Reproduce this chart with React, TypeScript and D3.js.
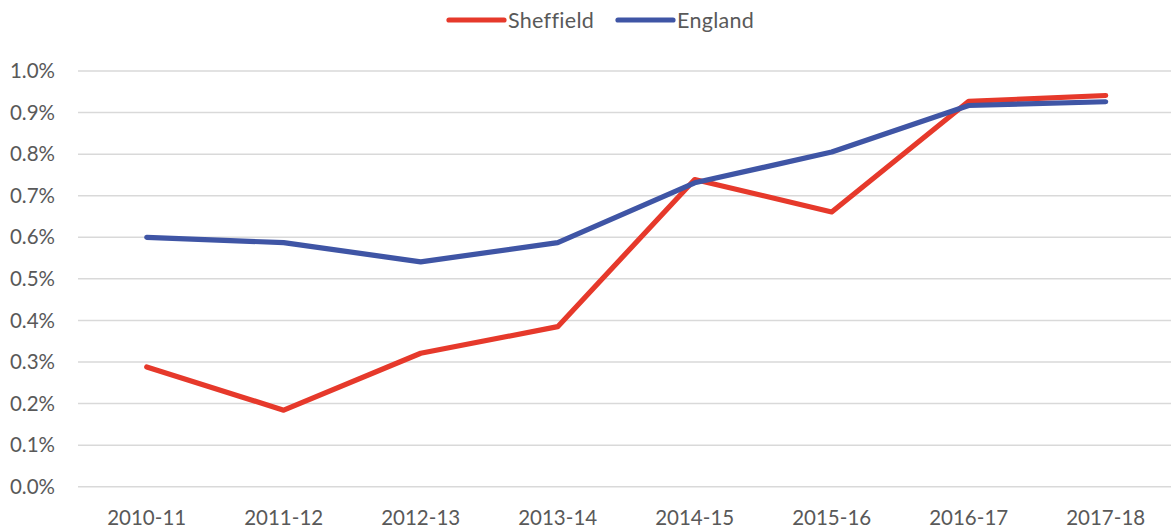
import React from "react";
import * as d3 from "d3";

const categories = ["2010-11", "2011-12", "2012-13", "2013-14", "2014-15", "2015-16", "2016-17", "2017-18"];
const sheffield = [0.288, 0.184, 0.321, 0.385, 0.739, 0.661, 0.927, 0.941];
const england = [0.600, 0.587, 0.541, 0.587, 0.731, 0.805, 0.917, 0.926];
const yTicks = [0, 0.1, 0.2, 0.3, 0.4, 0.5, 0.6, 0.7, 0.8, 0.9, 1.0];

const W = 1171;
const H = 530;
const RED = "#E6392B";
const BLUE = "#3F55A5";
const FONT = "Lato, 'Open Sans', sans-serif";

export default function App() {
  const x = d3.scaleBand<string>().domain(categories).range([78.2, 78.2 + 137 * 8]);
  const y = d3.scaleLinear().domain([0, 1.0]).range([486.7, 71]);
  const cx = (c: string) => (x(c) as number) + x.bandwidth() / 2;
  const line = d3
    .line<number>()
    .x((_, i) => cx(categories[i]))
    .y((d) => y(d));

  const series = [
    { name: "Sheffield", values: sheffield, color: RED },
    { name: "England", values: england, color: BLUE },
  ];
  const legend = [
    { name: "Sheffield", color: RED, x1: 449, x2: 504, tx: 508 },
    { name: "England", color: BLUE, x1: 618, x2: 673, tx: 677 },
  ];

  return (
    <svg
      width={W}
      height={H}
      style={{ position: "absolute", left: 0, top: 0, background: "#fff" }}
      fontFamily={FONT}
    >
      <rect width={W} height={H} fill="#fff" />
      {yTicks.map((t) => (
        <g key={t}>
          <line x1={78} x2={W} y1={y(t)} y2={y(t)} stroke="#D9D9D9" strokeWidth={1.5} />
          <text x={55} y={y(t)} dy="0.35em" textAnchor="end" fontSize={20.5} fill="#595959">
            {d3.format(".1f")(t) + "%"}
          </text>
        </g>
      ))}
      {categories.map((c) => (
        <text key={c} x={cx(c)} y={525} textAnchor="middle" fontSize={20.5} fill="#595959">
          {c}
        </text>
      ))}
      {series.map((s) => (
        <path
          key={s.name}
          d={line(s.values) || ""}
          fill="none"
          stroke={s.color}
          strokeWidth={5.2}
          strokeLinejoin="round"
          strokeLinecap="round"
        />
      ))}
      {legend.map((l) => (
        <g key={l.name}>
          <line x1={l.x1} x2={l.x2} y1={20} y2={20} stroke={l.color} strokeWidth={5.2} strokeLinecap="round" />
          <text
            x={l.tx}
            y={20}
            dy="0.35em"
            fontSize={21.5}
            letterSpacing={0.3}
            fill="#595959"
            style={{ fontVariantLigatures: "none" }}
          >
            {l.name}
          </text>
        </g>
      ))}
    </svg>
  );
}
